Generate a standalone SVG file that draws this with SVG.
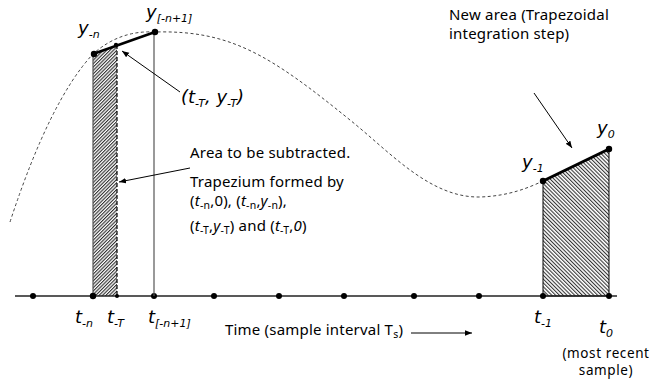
<svg xmlns="http://www.w3.org/2000/svg" width="654" height="380" viewBox="0 0 654 380">
<style>
.b{font-family:"Noto Sans","DejaVu Sans",sans-serif;font-size:15px;letter-spacing:0.2px;fill:#000}
.r{font-family:"Noto Sans","DejaVu Sans",sans-serif;font-size:13.5px;letter-spacing:0.6px;fill:#000}
.m{font-family:"DejaVu Sans",sans-serif;font-style:italic;font-size:18px;fill:#000}
.s{font-size:11px}
.bs{font-size:10.5px}
.i{font-style:italic}
.dot{fill:#000}
.arr{stroke:#000;stroke-width:1;fill:none;marker-end:url(#ah)}
</style>
<defs>
<pattern id="hl" patternUnits="userSpaceOnUse" width="2.4" height="8" patternTransform="rotate(45)">
<line x1="0.6" y1="0" x2="0.6" y2="8" stroke="#000" stroke-width="0.9"/>
</pattern>
<pattern id="hr" patternUnits="userSpaceOnUse" width="2.7" height="8" patternTransform="rotate(-45)">
<line x1="0.6" y1="0" x2="0.6" y2="8" stroke="#000" stroke-width="0.9"/>
</pattern>
<marker id="ah" viewBox="0 0 10 10" refX="10" refY="5" markerWidth="7" markerHeight="7" orient="auto" markerUnits="userSpaceOnUse">
<path d="M0,1 L10,5 L0,9 z" fill="#000"/>
</marker>
</defs>
<rect width="654" height="380" fill="#fff"/>

<g id="curve">
<path d="M10,222 Q50,100 93,54 Q120,30 155,32 C230,30 270,55 350,120 C390,152 430,198 480,197 C510,196 530,187 543,181" fill="none" stroke="#444" stroke-width="1" stroke-dasharray="3,2.5"/>
</g>

<g id="subtract-area">
<polygon points="93,54 117,45 117,296 93,296" fill="url(#hl)"/>
<line x1="93" y1="54" x2="93" y2="296" stroke="#555" stroke-width="1.2"/>
<line x1="117" y1="45" x2="117" y2="296" stroke="#000" stroke-width="1.2" stroke-dasharray="4,2"/>
</g>

<g id="new-area">
<polygon points="543,181 609,149 609,296 543,296" fill="url(#hr)" stroke="#000" stroke-width="1"/>
</g>

<g id="axis">
<line x1="15" y1="296" x2="617" y2="296" stroke="#222" stroke-width="1.5"/>
<circle class="dot" cx="33" cy="296" r="3"/>
<circle class="dot" cx="93" cy="296" r="3.2"/>
<circle class="dot" cx="117" cy="296" r="2"/>
<circle class="dot" cx="154" cy="296" r="3"/>
<circle class="dot" cx="214" cy="296" r="3"/>
<circle class="dot" cx="279" cy="296" r="3"/>
<circle class="dot" cx="344" cy="296" r="3"/>
<circle class="dot" cx="414" cy="296" r="3"/>
<circle class="dot" cx="479" cy="296" r="3"/>
<circle class="dot" cx="543" cy="296" r="3"/>
<circle class="dot" cx="609" cy="296" r="3"/>
</g>

<g id="sample-n1">
<line x1="154" y1="32" x2="154" y2="296" stroke="#555" stroke-width="1.2"/>
</g>

<g id="top-segments">
<line x1="93" y1="54" x2="155" y2="32" stroke="#000" stroke-width="2.5"/>
<line x1="543" y1="181" x2="609" y2="149" stroke="#000" stroke-width="3"/>
<circle class="dot" cx="94" cy="54" r="3.2"/>
<circle class="dot" cx="116" cy="45" r="2.2"/>
<circle class="dot" cx="155" cy="32" r="3.2"/>
<circle class="dot" cx="543" cy="181" r="3.2"/>
<circle class="dot" cx="609" cy="149" r="3.2"/>
</g>

<g id="connectors">
<line class="arr" x1="180" y1="92" x2="122" y2="51"/>
<line class="arr" x1="190" y1="168" x2="119" y2="182"/>
<line class="arr" x1="534" y1="93" x2="572" y2="148"/>
<line class="arr" x1="411" y1="333" x2="472" y2="333"/>
</g>

<g id="labels">
<text class="m" x="78" y="34">y<tspan class="s" dy="4">-n</tspan></text>
<text class="m" x="146" y="18">y<tspan class="s" dy="4">[-n+1]</tspan></text>
<text class="m" x="181" y="103">(t<tspan class="s" dy="4">-T</tspan><tspan dy="-4">, y</tspan><tspan class="s" dy="4">-T</tspan><tspan dy="-4">)</tspan></text>
<text class="m" x="522" y="168">y<tspan class="s" dy="4">-1</tspan></text>
<text class="m" x="597" y="134">y<tspan class="s" dy="4">0</tspan></text>
<text class="m" x="75" y="323">t<tspan class="s" dy="4">-n</tspan></text>
<text class="m" x="107" y="323">t<tspan class="s" dy="4">-T</tspan></text>
<text class="m" x="148" y="323">t<tspan class="s" dy="4">[-n+1]</tspan></text>
<text class="m" x="534" y="323">t<tspan class="s" dy="4">-1</tspan></text>
<text class="m" x="599" y="333">t<tspan class="s" dy="4">0</tspan></text>
</g>

<g id="text-area">
<text class="b" x="190" y="158">Area to be subtracted.</text>
<text class="b" x="190" y="187">Trapezium formed by</text>
<text class="b" x="190" y="206">(<tspan class="i">t</tspan><tspan class="bs" dy="3">-n</tspan><tspan dy="-3">,0), (</tspan><tspan class="i">t</tspan><tspan class="bs" dy="3">-n</tspan><tspan dy="-3">,</tspan><tspan class="i">y</tspan><tspan class="bs" dy="3">-n</tspan><tspan dy="-3">),</tspan></text>
<text class="b" x="190" y="231">(<tspan class="i">t</tspan><tspan class="bs" dy="3">-T</tspan><tspan dy="-3">,</tspan><tspan class="i">y</tspan><tspan class="bs" dy="3">-T</tspan><tspan dy="-3">) and (</tspan><tspan class="i">t</tspan><tspan class="bs" dy="3">-T</tspan><tspan dy="-3">,</tspan><tspan class="i">0</tspan><tspan>)</tspan></text>
</g>

<g id="text-new">
<text class="b" x="449" y="20">New area (Trapezoidal</text>
<text class="b" x="449" y="39">integration step)</text>
</g>

<g id="text-time">
<text class="b" x="225" y="335">Time (sample interval T<tspan class="bs" dy="3">s</tspan><tspan dy="-3">)</tspan></text>
</g>

<g id="text-recent">
<text class="r" x="606" y="358" text-anchor="middle">(most recent</text>
<text class="r" x="606" y="375" text-anchor="middle">sample)</text>
</g>
</svg>
